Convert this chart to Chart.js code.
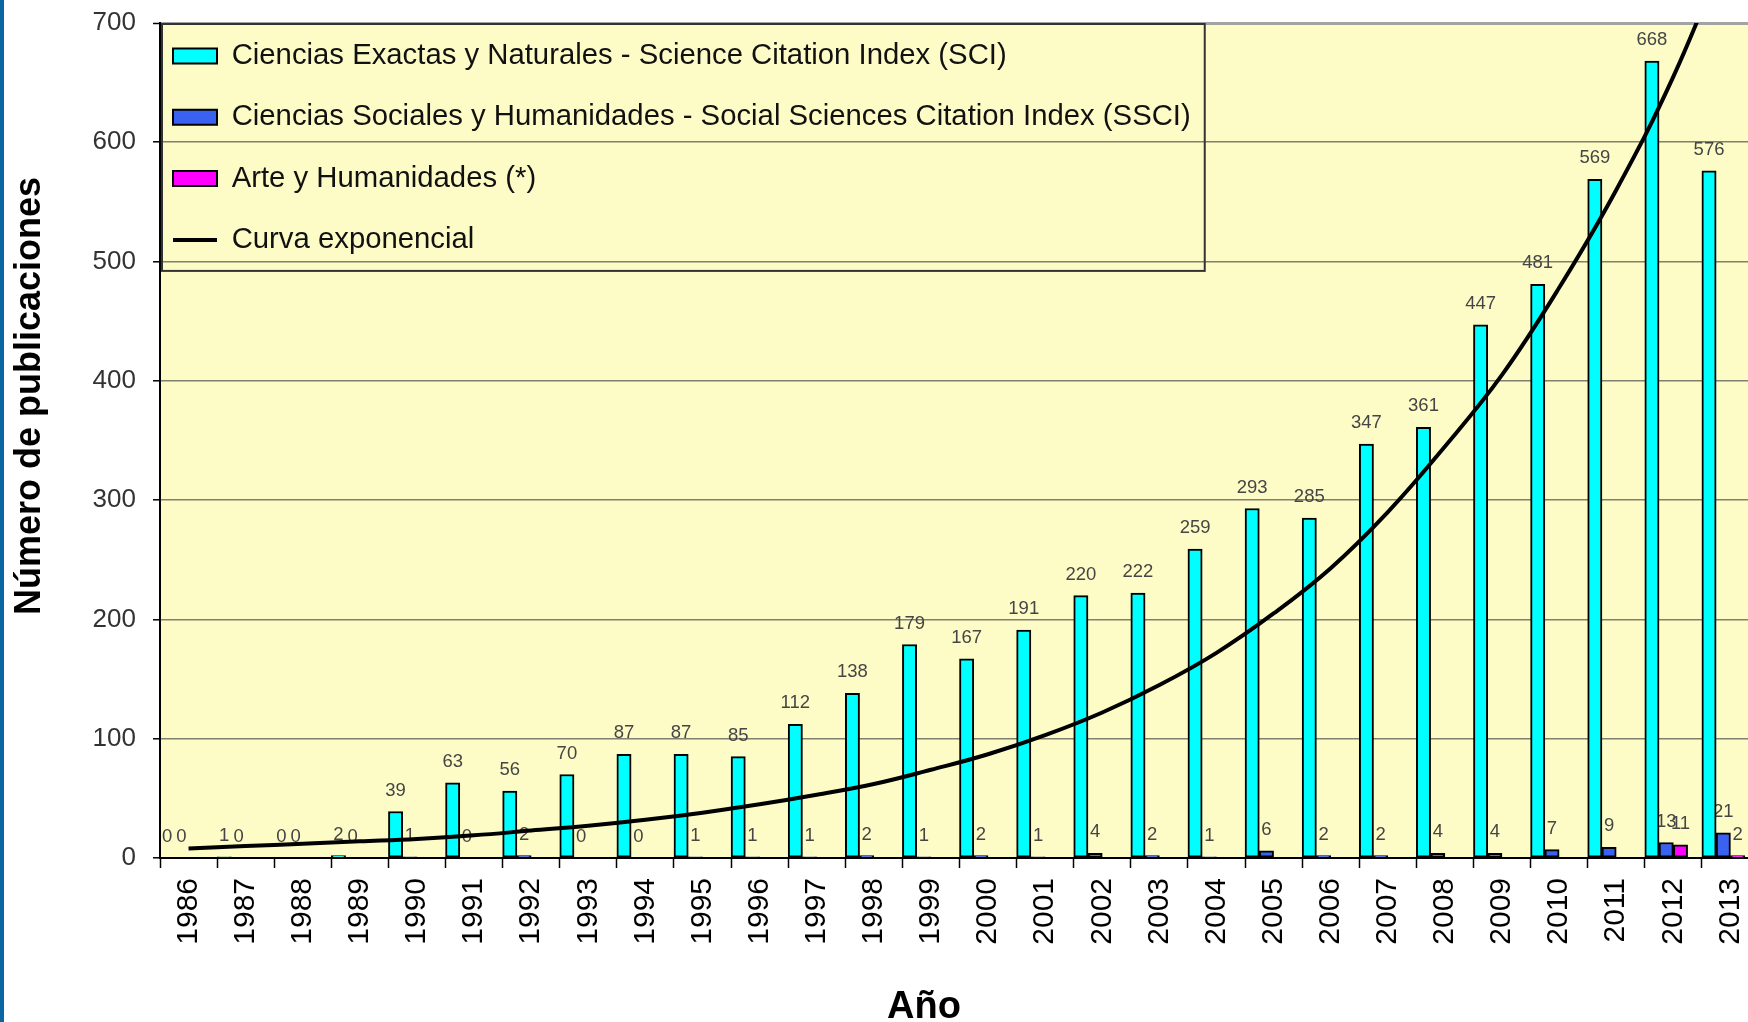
<!DOCTYPE html>
<html>
<head>
<meta charset="utf-8">
<script src="https://cdn.jsdelivr.net/npm/chart.js@4.4.1/dist/chart.umd.min.js"></script>
<style>
html,body{margin:0;padding:0;background:#ffffff;overflow:hidden;}
#wrap{position:absolute;left:0;top:0;width:1748px;height:1022px;overflow:hidden;background:#fff;}
#box{position:absolute;left:0;top:0;width:1759px;height:1022px;}
#edge{position:absolute;left:0;top:0;width:4px;height:1022px;background:#0b67a3;}
</style>
</head>
<body>
<div id="wrap">
  <div id="box"><canvas id="c" width="1759" height="1022"></canvas></div>
  <div id="edge"></div>
</div>
<script>
// ---------- data ----------
const years = ['1986','1987','1988','1989','1990','1991','1992','1993','1994','1995','1996','1997','1998','1999',
               '2000','2001','2002','2003','2004','2005','2006','2007','2008','2009','2010','2011','2012','2013'];
const sciValues  = [0,1,0,2,39,63,56,70,87,87,85,112,138,179,167,191,220,222,259,293,285,347,361,447,481,569,668,576];
const ssciValues = [0,0,0,0,1,0,2,0,0,1,1,1,2,1,2,1,4,2,1,6,2,2,4,4,7,9,13,21];
const ahValues   = [null,null,null,null,null,null,null,null,null,null,null,null,null,null,
                    null,null,null,null,null,null,null,null,null,null,null,null,11,2];
const curveValues = [8,10,12,14,16,19,23,27,32,38,45,53,62,74,87,103,122,145,172,205,243,290,345,405,478,560,655,770];
const spacerValues = years.map(() => null);

const sciLabel  = 'Ciencias Exactas y Naturales - Science Citation Index (SCI)';
const ssciLabel = 'Ciencias Sociales y Humanidades - Social Sciences Citation Index (SSCI)';
const ahLabel   = 'Arte y Humanidades (*)';
const curveLabel = 'Curva exponencial';
const yTitle = 'Número de publicaciones';
const xTitle = 'Año';
const yMin = 0, yMax = 700, yStep = 100;

// ---------- style ----------
const FONT = '"Liberation Sans", Arial, sans-serif';
const LEG_FS = 29.3, LEG_PAD = 32, LEG_BOXW = 44;

const plotBg = {
  id: 'plotBg',
  beforeDraw(chart) {
    const {ctx, chartArea: a} = chart;
    ctx.save();
    ctx.fillStyle = '#fdfcc6';
    ctx.fillRect(a.left, a.top, a.right - a.left, a.bottom - a.top);
    ctx.restore();
  }
};

const legendPlace = {
  id: 'legendPlace',
  afterLayout(chart) {
    const lg = chart.legend, a = chart.chartArea;
    lg.left = a.left + 13 - LEG_PAD;
    lg.top = a.top + 33 - LEG_FS / 2 - LEG_PAD;
    lg.right = lg.left + lg.width;
    lg.bottom = a.bottom;
    lg.height = lg.bottom - lg.top;
  },
  afterDraw(chart) {
    const lg = chart.legend, a = chart.chartArea, ctx = chart.ctx;
    ctx.save();
    ctx.font = LEG_FS + 'px ' + FONT;
    let maxW = 0;
    lg.legendItems.forEach(it => { maxW = Math.max(maxW, ctx.measureText(it.text).width); });
    const textStart = lg.left + LEG_PAD + LEG_BOXW + LEG_FS / 2;
    const right = textStart + maxW + 14;
    const n = lg.legendItems.length;
    const lastCenter = lg.top + LEG_PAD + (n - 1) * (LEG_FS + LEG_PAD) + LEG_FS / 2;
    const bottom = lastCenter + 31;
    ctx.strokeStyle = '#333';
    ctx.lineWidth = 2;
    ctx.strokeRect(a.left + 2, a.top + 1, right - a.left - 2, bottom - a.top - 1);
    ctx.restore();
  }
};

const valueLabels = {
  id: 'valueLabels',
  afterDatasetDraw(chart, args) {
    if (args.index > 2) return;
    const ctx = chart.ctx;
    const data = chart.data.datasets[args.index].data;
    ctx.save();
    ctx.font = '18.5px ' + FONT;
    ctx.fillStyle = '#454545';
    ctx.textAlign = 'center';
    ctx.textBaseline = 'middle';
    args.meta.data.forEach((el, i) => {
      const v = data[i];
      if (v === null || v === undefined) return;
      ctx.fillText(String(v), el.x, el.y - 21);
    });
    ctx.restore();
  }
};

const axisTitles = {
  id: 'axisTitles',
  afterDraw(chart) {
    const {ctx, chartArea: a} = chart;
    ctx.save();
    ctx.fillStyle = '#000';
    ctx.textAlign = 'center';
    ctx.textBaseline = 'alphabetic';
    ctx.font = 'bold 36px ' + FONT;
    ctx.translate(40, a.top + 373);
    ctx.rotate(-Math.PI / 2);
    ctx.fillText(yTitle, 0, 0);
    ctx.restore();
    ctx.save();
    ctx.fillStyle = '#000';
    ctx.textAlign = 'center';
    ctx.textBaseline = 'alphabetic';
    ctx.font = 'bold 38px ' + FONT;
    ctx.fillText(xTitle, a.left + 764, a.bottom + 160);
    ctx.restore();
  }
};

const barCommon = {
  type: 'bar',
  borderColor: '#000',
  borderWidth: 2,
  borderSkipped: false,
  categoryPercentage: 1.0,
  barPercentage: 1.0,
  order: 1
};

new Chart(document.getElementById('c'), {
  type: 'bar',
  data: {
    labels: years,
    datasets: [
      Object.assign({}, barCommon, {label: sciLabel, data: sciValues, backgroundColor: '#00ffff'}),
      Object.assign({}, barCommon, {label: ssciLabel, data: ssciValues, backgroundColor: '#3a62f0'}),
      Object.assign({}, barCommon, {label: ahLabel, data: ahValues, backgroundColor: '#ff00ff'}),
      Object.assign({}, barCommon, {label: '', data: spacerValues, backgroundColor: 'rgba(0,0,0,0)', borderWidth: 0}),
      {type: 'line', label: curveLabel, data: curveValues, borderColor: '#000', backgroundColor: '#000',
       borderWidth: 4, pointRadius: 0, fill: false, tension: 0.4, order: 0}
    ]
  },
  options: {
    responsive: false,
    animation: false,
    events: [],
    layout: {padding: {left: 0, top: 23, right: 0, bottom: 0}},
    plugins: {
      tooltip: {enabled: false},
      title: {display: false},
      legend: {
        display: true,
        position: 'chartArea',
        align: 'start',
        labels: {
          color: '#111',
          font: {family: FONT, size: LEG_FS},
          padding: LEG_PAD,
          usePointStyle: true,
          pointStyleWidth: LEG_BOXW,
          boxHeight: 15,
          generateLabels(chart) {
            const items = Chart.defaults.plugins.legend.labels.generateLabels(chart);
            return items
              .filter(it => chart.data.datasets[it.datasetIndex].label !== '')
              .sort((p, q) => p.datasetIndex - q.datasetIndex)
              .map(it => {
                const ds = chart.data.datasets[it.datasetIndex];
                if (ds.type === 'line') {
                  it.pointStyle = 'line'; it.lineWidth = 4; it.strokeStyle = '#000';
                } else {
                  it.pointStyle = 'rect'; it.lineWidth = 2; it.strokeStyle = '#000';
                }
                it.fontColor = '#111';
                return it;
              });
          }
        }
      }
    },
    scales: {
      x: {
        offset: true,
        afterFit(scale) { scale.height = 164; scale.paddingLeft = 0; scale.paddingRight = 0; },
        grid: {display: true, drawOnChartArea: false, drawTicks: true, tickLength: 10,
               tickColor: '#000', tickWidth: 1.5, offset: true},
        border: {display: true, color: '#000', width: 2},
        ticks: {autoSkip: false, minRotation: 90, maxRotation: 90, padding: 10,
                color: '#000', font: {family: FONT, size: 30}}
      },
      y: {
        min: yMin, max: yMax,
        afterFit(scale) { scale.width = 160; scale.paddingTop = 0; scale.paddingBottom = 0; },
        grid: {
          color: c => (c.tick && c.tick.value === yMax) ? '#a3a3a3' : '#808070',
          lineWidth: c => (c.tick && c.tick.value === yMax) ? 3 : 1.6,
          drawTicks: true, tickLength: 7, tickColor: '#000', tickWidth: 1.5
        },
        border: {display: true, color: '#000', width: 2},
        ticks: {stepSize: yStep, padding: 17, color: '#333', font: {family: FONT, size: 26}}
      }
    }
  },
  plugins: [plotBg, legendPlace, valueLabels, axisTitles]
});
</script>
</body>
</html>
